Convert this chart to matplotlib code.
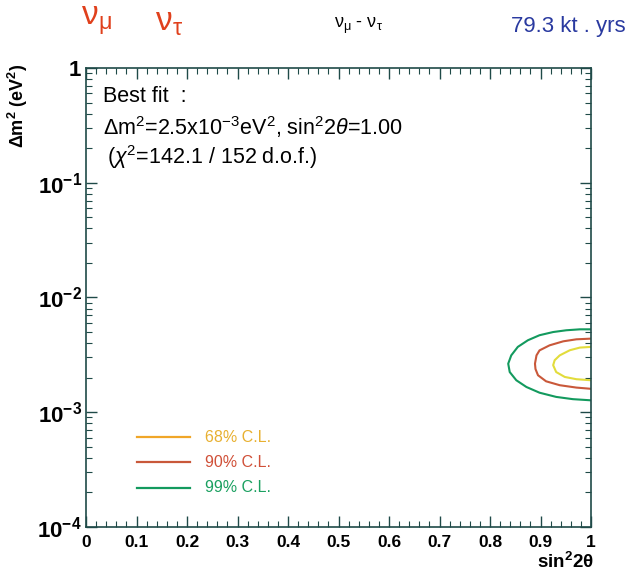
import matplotlib
matplotlib.use("Agg")
import matplotlib.pyplot as plt
import numpy as np
from matplotlib.ticker import MultipleLocator, LogLocator, FixedLocator, NullFormatter

plt.rcParams["font.family"] = ["Liberation Sans", "DejaVu Sans"]
plt.rcParams["mathtext.fontset"] = "custom"
plt.rcParams["mathtext.rm"] = "Liberation Sans"
plt.rcParams["mathtext.it"] = "Liberation Sans:italic"
plt.rcParams["mathtext.bf"] = "Liberation Sans:bold"

# contour outlines (sin^2 2theta, dm^2 in eV^2)
c99_x = [1.0, 0.978, 0.951, 0.925, 0.898, 0.875, 0.855, 0.842, 0.836,
         0.839, 0.852, 0.872, 0.898, 0.931, 0.964, 1.0]
c99_y = [5.28e-3, 5.28e-3, 5.18e-3, 5.00e-3, 4.69e-3, 4.24e-3, 3.71e-3, 3.13e-3, 2.65e-3,
         2.24e-3, 1.90e-3, 1.66e-3, 1.48e-3, 1.36e-3, 1.30e-3, 1.27e-3]

c90_x = [1.0, 0.971, 0.945, 0.918, 0.898, 0.892, 0.889, 0.890, 0.895,
         0.911, 0.938, 0.971, 1.0]
c90_y = [4.38e-3, 4.32e-3, 4.15e-3, 3.83e-3, 3.46e-3, 3.13e-3, 2.65e-3, 2.38e-3, 2.10e-3,
         1.86e-3, 1.72e-3, 1.64e-3, 1.60e-3]

c68_x = [1.0, 0.978, 0.958, 0.938, 0.928, 0.925, 0.931, 0.948, 0.971, 1.0]
c68_y = [3.71e-3, 3.66e-3, 3.47e-3, 3.13e-3, 2.84e-3, 2.57e-3, 2.24e-3, 2.03e-3,
         1.94e-3, 1.90e-3]

x_ticks = [0, 0.1, 0.2, 0.3, 0.4, 0.5, 0.6, 0.7, 0.8, 0.9, 1.0]
x_labels = ["0", "0.1", "0.2", "0.3", "0.4", "0.5", "0.6", "0.7", "0.8", "0.9", "1"]
y_ticks = [1e-4, 1e-3, 1e-2, 1e-1, 1]
y_labels = [r"$\mathbf{10^{-4}}$", r"$\mathbf{10^{-3}}$", r"$\mathbf{10^{-2}}$",
            r"$\mathbf{10^{-1}}$", r"$\mathbf{1}$"]

col68 = "#e2dc3c"
col68_leg = "#f0a628"
col90 = "#c9583a"
col99 = "#139a5e"
frame = "#1f4a48"

fig = plt.figure(figsize=(6.33, 5.71), dpi=100)
ax = fig.add_axes([0.1359, 0.0771, 0.7978, 0.8038])

for cx, cy, cc in [(c99_x, c99_y, col99), (c90_x, c90_y, col90), (c68_x, c68_y, col68)]:
    ax.plot(cx, cy, color=cc, lw=1.5, solid_joinstyle="round", solid_capstyle="round")

ax.set_xlim(0, 1)
ax.set_yscale("log")
ax.set_ylim(1e-4, 1)

ax.xaxis.set_major_locator(FixedLocator(x_ticks))
ax.xaxis.set_minor_locator(MultipleLocator(0.02))
ax.set_xticklabels(x_labels, fontsize=12.5, fontweight="bold")
ax.yaxis.set_major_locator(FixedLocator(y_ticks))
ax.yaxis.set_minor_locator(LogLocator(base=10, subs=np.arange(2, 10)))
ax.yaxis.set_minor_formatter(NullFormatter())
ax.set_yticklabels(y_labels, fontsize=16)

ax.tick_params(which="both", direction="in", top=True, right=True, colors=frame)
ax.tick_params(which="major", length=8, width=1, labelcolor="black")
ax.tick_params(which="minor", length=4, width=0.8)
ax.tick_params(axis="x", pad=6)
ax.tick_params(axis="y", pad=3)
for s in ax.spines.values():
    s.set_color(frame)
    s.set_linewidth(1.2)

# legend drawn by hand inside the box
leg = [(col68_leg, "#e8b030", "68% C.L."), (col90, "#d05038", "90% C.L."), (col99, "#1aa060", "99% C.L.")]
for i, (lc, tc, txt) in enumerate(leg):
    yy = 0.196 - i * 0.055
    ax.plot([0.10, 0.205], [yy, yy], transform=ax.transAxes, color=lc, lw=1.6)
    ax.text(0.235, yy, txt, transform=ax.transAxes, color=tc, fontsize=11.5,
            va="center", ha="left")

ax.text(0.034, 0.938, "Best fit  :", transform=ax.transAxes, fontsize=15.5, va="center")
ax.text(0.034, 0.872, r"$\Delta$m$^2$=2.5x10$^{-3}$eV$^2$, sin$^2$2$\theta$=1.00",
        transform=ax.transAxes, fontsize=15.5, va="center")
ax.text(0.042, 0.806, r"($\chi^2$=142.1 / 152 d.o.f.)", transform=ax.transAxes,
        fontsize=15.5, va="center")

# axis titles
fig.text(0.028, 0.814, r"$\mathbf{\Delta m^2\ (eV^2)}$", rotation=90, fontsize=13,
         ha="center", va="center")
fig.text(0.893, 0.016, r"$\mathbf{sin^22\theta}$", fontsize=13.5, ha="center", va="center")

# header texts
fig.text(0.128, 0.962, r"$\mathrm{\nu_{\mu}}$", color="#e0401c", fontsize=24, ha="left", va="center",
         family=["DejaVu Sans"])
fig.text(0.245, 0.962, r"$\mathrm{\nu_{\tau}}$", color="#e0401c", fontsize=24, ha="left", va="center",
         family=["DejaVu Sans"])
fig.text(0.527, 0.955, r"$\mathrm{\nu_{\mu}}$ - $\mathrm{\nu_{\tau}}$", fontsize=13, ha="left",
         va="center")
fig.text(0.988, 0.953, "79.3 kt . yrs", color="#2a3aa0", fontsize=16, ha="right", va="center")

fig.savefig("out.png", dpi=100)
